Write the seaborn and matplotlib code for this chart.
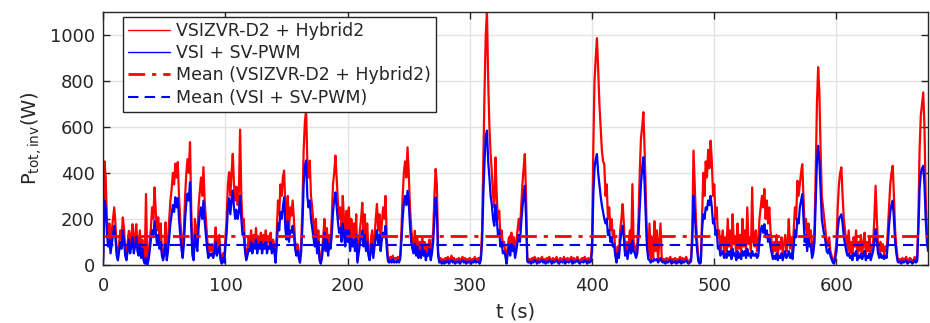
import numpy as np
import pandas as pd
import matplotlib
matplotlib.use("Agg")
import matplotlib.pyplot as plt
import seaborn as sns

# ---- data (1 s resolution) ----
red_w = [
    30, 450, 380, 200, 120, 180, 90, 150, 200, 250,
    180, 60, 30, 90, 150, 110, 206, 160, 60, 30,
    100, 148, 90, 130, 177, 80, 120, 177, 100, 70,
    150, 60, 110, 40, 20, 308, 10, 40, 100, 160,
    250, 200, 337, 230, 150, 207, 110, 180, 60, 30,
    80, 185, 40, 100, 200, 280, 330, 400, 350, 440,
    380, 447, 300, 200, 120, 50, 150, 300, 400, 460,
    400, 534, 250, 60, 30, 200, 150, 100, 250, 320,
    380, 300, 425, 280, 200, 120, 50, 90, 60, 90,
    50, 80, 163, 60, 100, 130, 40, 10, 50, 20,
    120, 200, 350, 403, 300, 400, 483, 350, 280, 340,
    260, 320, 588, 300, 177, 200, 80, 32, 60, 120,
    80, 150, 60, 130, 90, 160, 70, 120, 100, 140,
    60, 130, 90, 150, 70, 120, 100, 140, 60, 110,
    80, 10, 150, 280, 220, 350, 300, 380, 410, 250,
    180, 300, 150, 250, 214, 280, 200, 100, 60, 90,
    50, 10, 100, 250, 500, 620, 672, 450, 380, 453,
    300, 250, 180, 120, 200, 80, 150, 30, 10, 60,
    120, 200, 90, 160, 60, 130, 100, 200, 350, 400,
    475, 380, 280, 200, 250, 150, 300, 200, 120, 235,
    150, 250, 100, 200, 130, 180, 100, 220, 20, 80,
    150, 200, 270, 130, 220, 100, 180, 60, 30, 100,
    150, 50, 120, 200, 265, 150, 220, 100, 180, 250,
    200, 300, 120, 30, 20, 35, 25, 40, 20, 30,
    25, 35, 20, 40, 150, 300, 400, 450, 380, 511,
    400, 250, 163, 100, 80, 148, 60, 120, 50, 100,
    50, 120, 70, 100, 40, 90, 60, 110, 30, 80,
    150, 300, 417, 350, 60, 20, 30, 15, 25, 10,
    30, 20, 35, 15, 25, 40, 20, 30, 15, 25,
    20, 30, 15, 25, 35, 20, 30, 15, 25, 20,
    30, 15, 25, 20, 35, 20, 25, 30, 15, 40,
    150, 450, 750, 1000, 1100, 800, 600, 482, 400, 300,
    250, 467, 300, 200, 235, 120, 150, 80, 100, 60,
    10, 80, 120, 60, 140, 90, 120, 50, 100, 150,
    200, 150, 250, 350, 420, 482, 300, 30, 20, 25,
    15, 30, 20, 35, 25, 15, 30, 20, 25, 35,
    20, 25, 15, 30, 20, 35, 25, 15, 30, 20,
    25, 35, 20, 15, 30, 25, 20, 35, 15, 25,
    30, 20, 25, 35, 15, 30, 20, 25, 35, 20,
    15, 25, 30, 20, 35, 25, 15, 30, 20, 25,
    100, 500, 800, 900, 986, 850, 700, 598, 500, 450,
    438, 300, 350, 200, 250, 150, 199, 120, 150, 60,
    20, 80, 50, 150, 200, 264, 180, 60, 100, 40,
    100, 150, 80, 351, 100, 80, 50, 90, 200, 400,
    550, 600, 664, 500, 300, 100, 40, 180, 20, 120,
    30, 190, 60, 150, 20, 100, 180, 30, 20, 25,
    15, 30, 20, 25, 35, 15, 25, 20, 30, 15,
    25, 20, 35, 15, 30, 20, 25, 35, 20, 15,
    20, 30, 150, 497, 350, 200, 100, 30, 15, 20,
    200, 400, 300, 450, 380, 500, 420, 540, 450, 300,
    350, 200, 250, 120, 150, 60, 100, 150, 50, 120,
    60, 200, 80, 150, 50, 220, 90, 120, 40, 180,
    70, 130, 50, 200, 80, 150, 60, 250, 90, 120,
    60, 337, 100, 80, 150, 60, 100, 200, 250, 300,
    250, 330, 200, 280, 180, 250, 150, 100, 50, 100,
    60, 130, 40, 100, 70, 120, 50, 90, 130, 60,
    100, 199, 70, 120, 50, 150, 250, 200, 366, 300,
    350, 400, 438, 300, 150, 200, 100, 180, 120, 150,
    50, 80, 150, 400, 700, 860, 750, 500, 300, 250,
    200, 150, 100, 80, 120, 60, 40, 20, 10, 50,
    100, 250, 350, 400, 424, 300, 200, 150, 100, 60,
    150, 50, 100, 30, 120, 80, 150, 40, 100, 60,
    130, 50, 90, 140, 40, 100, 60, 120, 30, 80,
    100, 200, 344, 200, 80, 50, 100, 60, 90, 40,
    80, 60, 150, 250, 350, 400, 431, 300, 150, 80,
    30, 20, 25, 15, 30, 20, 25, 35, 15, 20,
    30, 25, 15, 20, 35, 20, 25, 200, 500, 650,
    700, 750, 600, 300, 150, 100,
]

blue_w = [
    20, 280, 250, 140, 80, 110, 50, 90, 130, 170,
    120, 40, 20, 60, 100, 70, 148, 110, 40, 20,
    60, 110, 50, 80, 120, 50, 80, 120, 60, 40,
    90, 30, 70, 20, 5, 30, 0, 20, 60, 110,
    150, 120, 192, 140, 90, 130, 70, 100, 40, 20,
    50, 90, 20, 60, 120, 180, 220, 260, 230, 294,
    250, 290, 200, 130, 70, 30, 90, 200, 270, 310,
    280, 359, 160, 40, 20, 130, 90, 60, 160, 220,
    250, 200, 279, 190, 130, 70, 30, 50, 40, 50,
    30, 50, 100, 40, 60, 80, 20, 5, 30, 10,
    80, 140, 250, 290, 220, 280, 323, 250, 200, 240,
    200, 230, 300, 200, 130, 140, 60, 20, 40, 70,
    60, 100, 50, 90, 70, 110, 50, 90, 70, 100,
    50, 90, 70, 100, 50, 80, 70, 100, 50, 80,
    60, 10, 90, 180, 150, 230, 200, 250, 294, 160,
    110, 190, 100, 150, 140, 170, 130, 70, 40, 60,
    30, 10, 60, 170, 350, 430, 454, 300, 250, 280,
    200, 160, 120, 80, 130, 50, 100, 20, 5, 30,
    80, 140, 60, 110, 40, 90, 70, 130, 230, 280,
    315, 250, 190, 140, 160, 100, 180, 130, 80, 150,
    100, 150, 60, 120, 80, 110, 60, 130, 10, 50,
    90, 120, 150, 80, 130, 60, 100, 40, 20, 60,
    90, 30, 80, 120, 150, 90, 130, 60, 110, 140,
    120, 170, 70, 15, 10, 20, 10, 25, 10, 15,
    10, 20, 10, 25, 100, 200, 270, 300, 260, 322,
    270, 170, 100, 70, 50, 90, 40, 80, 30, 60,
    30, 80, 40, 60, 20, 50, 40, 70, 20, 50,
    100, 200, 293, 230, 40, 10, 15, 5, 15, 5,
    15, 10, 20, 5, 15, 20, 10, 15, 5, 15,
    10, 15, 5, 15, 20, 10, 15, 5, 15, 10,
    15, 5, 15, 10, 20, 10, 15, 15, 5, 20,
    100, 300, 450, 560, 584, 450, 380, 300, 260, 200,
    170, 260, 200, 130, 150, 80, 100, 50, 60, 40,
    5, 50, 80, 40, 90, 60, 80, 30, 60, 100,
    130, 100, 180, 250, 300, 344, 200, 15, 10, 15,
    5, 15, 10, 20, 15, 5, 15, 10, 15, 20,
    10, 15, 5, 15, 10, 20, 15, 5, 15, 10,
    15, 20, 10, 5, 15, 15, 10, 20, 5, 15,
    15, 10, 15, 20, 5, 15, 10, 15, 20, 10,
    5, 15, 15, 10, 20, 15, 5, 15, 10, 15,
    60, 300, 420, 460, 482, 400, 350, 300, 260, 230,
    200, 180, 200, 130, 150, 100, 120, 80, 90, 40,
    10, 50, 30, 100, 140, 170, 120, 40, 60, 25,
    60, 90, 50, 105, 60, 50, 30, 50, 120, 250,
    350, 420, 468, 350, 200, 70, 25, 20, 10, 20,
    15, 25, 20, 25, 10, 20, 30, 15, 10, 15,
    5, 15, 10, 15, 20, 5, 15, 10, 15, 5,
    15, 10, 20, 5, 15, 10, 15, 20, 10, 5,
    10, 15, 100, 300, 230, 130, 60, 15, 5, 10,
    150, 220, 200, 250, 240, 280, 260, 300, 250, 180,
    200, 130, 150, 70, 80, 40, 50, 60, 30, 50,
    30, 60, 40, 60, 25, 70, 40, 50, 20, 60,
    30, 50, 25, 60, 40, 60, 30, 70, 40, 50,
    30, 60, 40, 40, 50, 30, 40, 100, 150, 170,
    140, 177, 120, 150, 100, 130, 80, 50, 25, 40,
    25, 50, 20, 40, 30, 50, 20, 40, 60, 30,
    40, 60, 30, 50, 25, 80, 150, 120, 200, 180,
    250, 280, 308, 200, 100, 130, 60, 120, 80, 90,
    30, 50, 100, 280, 450, 518, 450, 320, 200, 160,
    130, 100, 60, 50, 70, 40, 25, 10, 5, 30,
    60, 150, 200, 210, 220, 180, 120, 90, 60, 40,
    50, 30, 40, 20, 50, 40, 60, 20, 40, 30,
    50, 25, 40, 60, 20, 40, 30, 50, 20, 40,
    60, 100, 155, 100, 50, 30, 50, 30, 40, 25,
    40, 30, 90, 170, 230, 260, 279, 200, 100, 50,
    15, 10, 15, 5, 15, 10, 15, 20, 5, 10,
    15, 15, 5, 10, 20, 10, 15, 150, 330, 400,
    420, 431, 350, 200, 100, 60,
]

mean_red = 125
mean_blue = 87
labels = ["VSIZVR-D2 + Hybrid2", "VSI + SV-PWM",
          "Mean (VSIZVR-D2 + Hybrid2)", "Mean (VSI + SV-PWM)"]
x_ticks = [0, 100, 200, 300, 400, 500, 600]
y_ticks = [0, 200, 400, 600, 800, 1000]

t = np.arange(len(red_w))
df = pd.DataFrame({"t": t, "red": red_w, "blue": blue_w[:len(t)]})

sns.set_theme(style="whitegrid")
plt.rcParams["font.family"] = ["DejaVu Sans"]

fig = plt.figure(figsize=(9.3, 3.23), dpi=100)
ax = fig.add_axes([0.111, 0.18, 0.887, 0.783])

sns.lineplot(data=df, x="t", y="red", ax=ax, color="#ff0000", lw=1.6, label=labels[0])
sns.lineplot(data=df, x="t", y="blue", ax=ax, color="#0000ff", lw=1.6, label=labels[1])
ax.axhline(mean_red, color="#ff0000", lw=2.0, ls=(0, (6, 2.5, 1.5, 2.5)), label=labels[2])
ax.axhline(mean_blue, color="#0000ff", lw=1.5, ls=(0, (5, 3)), label=labels[3])

ax.set_xlim(0, 675)
ax.set_ylim(0, 1100)
ax.set_xticks(x_ticks)
ax.set_yticks(y_ticks)
ax.set_facecolor("white")
ax.grid(True, color="#e3e3e3", lw=1.0)
ax.set_axisbelow(True)
for s in ax.spines.values():
    s.set_visible(True)
    s.set_color("#262626")
    s.set_linewidth(1.0)
ax.tick_params(axis="both", direction="in", length=5, width=1, color="#262626",
               labelsize=13, labelcolor="#262626", top=True, right=True,
               bottom=True, left=True)
ax.tick_params(axis="x", pad=9)
ax.tick_params(axis="y", pad=6)
ax.set_xlabel("t (s)", fontsize=14, color="#262626", labelpad=5)
ax.set_ylabel(r"P$_{\mathregular{tot,inv}}$(W)", fontsize=14, color="#262626", labelpad=4)

leg = ax.legend(loc="upper left", bbox_to_anchor=(0.024, 0.982), borderaxespad=0,
                fontsize=12.5, frameon=True, fancybox=False, handlelength=2.4,
                handletextpad=0.35, labelspacing=0.25, borderpad=0.3)
leg.get_frame().set_edgecolor("#262626")
leg.get_frame().set_linewidth(1.0)
leg.get_frame().set_alpha(1)
for line in leg.get_lines()[:2]:
    line.set_linewidth(1.0)
for txt in leg.get_texts():
    txt.set_color("#262626")

fig.savefig("out.png", dpi=100)
